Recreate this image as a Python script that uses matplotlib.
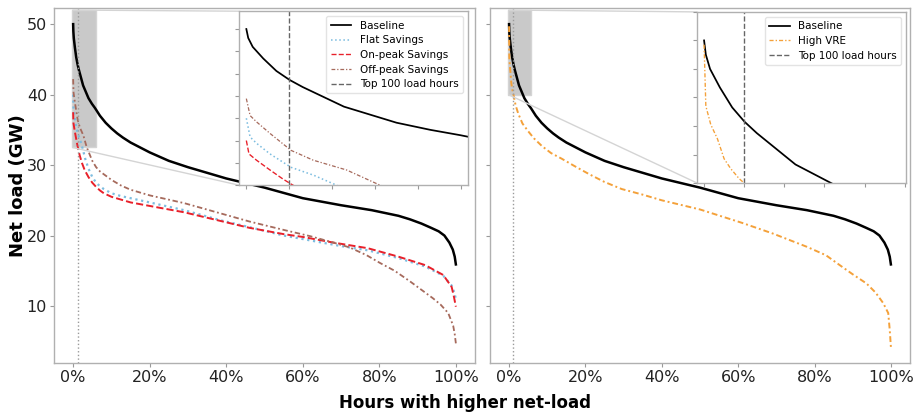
import numpy as np
import matplotlib
matplotlib.use('Agg')
import matplotlib.pyplot as plt
from matplotlib.ticker import PercentFormatter, MultipleLocator
from mpl_toolkits.axes_grid1.inset_locator import mark_inset

plt.rcParams['font.family'] = ['DejaVu Sans']

N_HOURS = 8760
TOP_HOURS = 100

# 負荷持続曲線（x: 上位からの時間割合 [%], y: 正味負荷 [GW]）
baseline_x = [0, 0.05, 0.17, 0.45, 0.8, 1.15, 1.5, 2.0, 2.6, 3.3, 4.0, 4.9, 5.7, 7, 8.5,
              10, 11.5, 13, 15, 17.5, 20, 25, 30, 35, 40, 50, 60, 70, 78, 85, 88, 91, 93.5,
              95.5, 97, 98.3, 99.2, 99.7, 100]
baseline_y = [50.0, 49.0, 48.0, 46.7, 45.3, 44.3, 43.5, 42.5, 41.3, 40.4, 39.5, 38.7, 38.1, 37.0, 36.0,
              35.2, 34.5, 33.9, 33.2, 32.5, 31.8, 30.6, 29.7, 28.9, 28.1, 26.8, 25.3, 24.3, 23.6, 22.8, 22.3, 21.7, 21.1,
              20.6, 20.0, 19.0, 18.0, 17.0, 15.9]

flat_x = [0, 0.1, 0.27, 0.63, 1.19, 1.8, 2.4, 3.2, 4, 5, 6, 7, 8, 10, 12.5, 15, 20, 29, 39, 46,
          55, 62, 70, 77, 85, 92, 96.7, 98.9, 99.6, 100]
flat_y = [40.0, 37.9, 37.2, 36.0, 34.5, 33.6, 32.5, 30.8, 29.5, 28.3, 27.5, 27.0, 26.6, 26.0, 25.6, 25.3, 24.7, 23.6, 22.1, 21.2,
          20.0, 19.3, 18.5, 17.9, 16.8, 15.6, 14.3, 12.9, 11.9, 11.0]

onpeak_x = [0, 0.07, 0.27, 0.63, 0.97, 1.2, 1.7, 2.3, 3, 4, 5, 6, 7, 8, 10, 12.5, 15, 20, 29, 37.5,
            46, 55, 60, 68, 77, 85, 92, 96.7, 98.9, 99.5, 100]
onpeak_y = [37.5, 36.0, 35.3, 34.2, 33.2, 32.6, 31.4, 30.3, 29.3, 28.3, 27.5, 26.9, 26.4, 26.0, 25.5, 25.1, 24.7, 24.2, 23.3, 22.2,
            21.1, 20.2, 19.8, 19.0, 18.2, 17.0, 15.8, 14.4, 12.7, 11.3, 9.9]

offpeak_x = [0, 0.1, 0.27, 0.63, 1.19, 1.78, 2.67, 3.56, 5, 6, 7, 8.5, 10, 12.5, 15, 20, 29, 37.5, 46, 55,
             62, 68, 72.3, 76.7, 80.2, 84, 88, 91, 94, 96, 98, 99.3, 99.7, 100]
offpeak_y = [42.2, 40.3, 39.6, 38.3, 36.4, 35.3, 34.2, 32.5, 30.6, 29.7, 29.1, 28.5, 27.9, 27.1, 26.5, 25.7, 24.6, 23.3, 22.0, 20.8,
             19.9, 19.0, 18.3, 17.2, 16.1, 15.0, 13.5, 12.3, 11.1, 10.2, 9.0, 7.2, 6.0, 4.7]

highvre_x = [0, 0.02, 0.05, 0.19, 0.38, 0.57, 0.76, 1.0, 1.14, 1.7, 2.4, 3.5, 5, 6.5, 8.6, 11,
             13.8, 17, 21, 25, 29.5, 35, 40, 50, 61, 69, 78, 83, 86.6, 90, 93.6, 96, 98,
             99.3, 99.7, 100]
highvre_y = [49.7, 48.0, 45.4, 44.1, 43.1, 41.7, 41.0, 40.3, 40.0, 38.5, 37.3, 35.9, 34.8, 33.8, 32.7, 31.7,
             30.9, 29.9, 28.7, 27.6, 26.6, 25.8, 25.0, 23.7, 21.8, 20.3, 18.4, 17.2, 15.8, 14.5, 13.2, 11.9, 10.4,
             9.0, 6.6, 4.2]

SPINE_COLOR = '#b0b0b0'
TOP_LINE = TOP_HOURS / N_HOURS


def pct(values):
    """%表記を0-1の割合に変換"""
    return np.asarray(values) / 100.0


def style_spines(ax):
    for s in ax.spines.values():
        s.set_color(SPINE_COLOR)
        s.set_linewidth(1.0)


def draw_panel(ax, series, inset_rect, inset_xlim, inset_ylim, inset_ystep):
    """メインの持続曲線と拡大図を描く"""
    for x, y, kw in series:
        ax.plot(pct(x), y, **kw)
    ax.axvline(TOP_LINE, color='#9a9a9a', linestyle=':', linewidth=1.0)

    ax.xaxis.set_major_formatter(PercentFormatter(xmax=1, decimals=0))
    ax.tick_params(labelsize=11.5, labelcolor='#222222', color='#999999', length=3, pad=2)
    style_spines(ax)

    # 拡大図（上位時間帯）
    axins = ax.inset_axes(inset_rect)
    for x, y, kw in series:
        kw2 = dict(kw)
        kw2['linewidth'] = kw.get('linewidth', 1.2) * 0.7
        axins.plot(pct(x), y, **kw2)
    axins.axvline(TOP_LINE, color='#666666', linestyle='--', linewidth=1.0,
                  label='Top 100 load hours')
    axins.set_xlim(*inset_xlim)
    axins.set_ylim(*inset_ylim)
    axins.xaxis.set_major_locator(MultipleLocator(TOP_LINE))
    axins.yaxis.set_major_locator(MultipleLocator(inset_ystep))
    axins.tick_params(labelbottom=False, labelleft=False, color='#999999', length=3)
    style_spines(axins)
    axins.legend(loc='upper right', fontsize=7.5, edgecolor='#dddddd',
                 labelspacing=0.45, borderaxespad=0.5)

    mark_inset(ax, axins, loc1=2, loc2=3, fc='#c9c9c9', ec='#d4d4d4', lw=1.0)
    return axins


fig = plt.figure(figsize=(9.14, 4.15), dpi=100)
ax1 = fig.add_axes([0.0591, 0.1253, 0.4606, 0.8554])
ax2 = fig.add_axes([0.5361, 0.1253, 0.4595, 0.8554], sharey=ax1)

base_kw = dict(color='black', linestyle='-', linewidth=1.8, label='Baseline')

left_series = [
    (baseline_x, baseline_y, base_kw),
    (flat_x, flat_y, dict(color='#7dbde0', linestyle=':', linewidth=1.6, label='Flat Savings')),
    (onpeak_x, onpeak_y, dict(color='#e8202a', linestyle='--', linewidth=1.4, label='On-peak Savings')),
    (offpeak_x, offpeak_y, dict(color='#a66a5c', linestyle=(0, (3, 1.5, 1, 1.5)), linewidth=1.3,
                                label='Off-peak Savings')),
]
right_series = [
    (baseline_x, baseline_y, base_kw),
    (highvre_x, highvre_y, dict(color='#f4a13a', linestyle=(0, (3, 1.5, 1, 1.5)), linewidth=1.4,
                                label='High VRE')),
]

draw_panel(ax1, left_series, [0.439, 0.501, 0.544, 0.490], (-0.002, 0.059), (32.5, 52), 2.5)
draw_panel(ax2, right_series, [0.493, 0.507, 0.498, 0.482], (-0.002, 0.0575), (40, 52), 2)

ax2.tick_params(labelleft=False)
ax1.set_ylabel('Net load (GW)', fontsize=13, fontweight='bold', labelpad=0)
fig.text(0.509, 0.03, 'Hours with higher net-load', ha='center', va='center',
         fontsize=12, fontweight='bold')

plt.savefig('out.png', dpi=100)
plt.close()
